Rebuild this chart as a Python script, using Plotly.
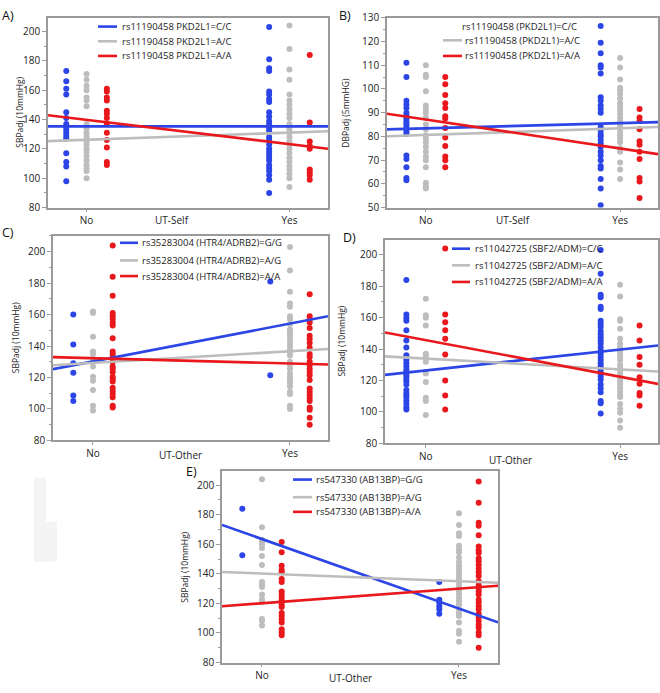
import plotly.graph_objects as go

# ---------------- data ----------------
categories = ["No", "Yes"]
genotype_colors = ["#2b45e6", "#bdbdbd", "#e8181c"]

# Panel A: rs11190458 PKD2L1 vs UT-Self, SBPadj
A_labels = ["rs11190458 PKD2L1=C/C", "rs11190458 PKD2L1=A/C", "rs11190458 PKD2L1=A/A"]
A_blue_no = [173, 166, 161, 157, 145, 141, 137, 135, 133, 131, 129, 127, 117, 111, 108, 98]
A_gray_no = [171, 167, 163, 160, 155, 153, 149, 137, 134, 131, 129, 127, 125, 123, 120, 118, 115, 112, 109, 107, 105, 100]
A_red_no = [161, 159, 155, 153, 146, 144, 141, 137, 131, 126, 121, 111, 109]
A_blue_yes = [203, 181, 175, 173, 159, 157, 154, 152, 145, 142, 139, 137, 134, 132, 128, 126, 123, 120, 118, 116, 114, 112, 109, 107, 105, 102, 99, 90]
A_gray_yes = [204, 188, 174, 167, 157, 153, 150, 147, 144, 141, 137, 135, 133, 131, 128, 125, 123, 120, 117, 114, 111, 108, 106, 103, 100, 94]
A_red_yes = [184, 138, 125, 122, 120, 106, 104, 102, 99]
A_fit_no = [135.3, 126.2, 139.8]
A_fit_yes = [135.3, 131.1, 123.2]

# Panel B: rs11190458 (PKD2L1) vs UT-Self, DBPadj
B_labels = ["rs11190458 (PKD2L1)=C/C", "rs11190458 (PKD2L1)=A/C", "rs11190458 (PKD2L1)=A/A"]
B_blue_no = [111, 105, 95, 93.5, 92, 90, 89, 88, 87, 86, 85, 84, 83, 82, 81, 72, 70.5, 67, 62.5, 61.5]
B_gray_no = [110, 106, 105, 99, 93, 91.5, 90, 88, 85, 83, 80.5, 79, 77.5, 75.5, 73.5, 71.5, 70, 67, 60.5, 59, 58]
B_red_no = [105, 102, 97.5, 94, 92, 88.5, 87.5, 83.5, 79.5, 76, 71.5, 70, 67]
B_blue_yes = [126.5, 119.5, 115, 110, 109, 106.5, 96.5, 95, 93, 91.5, 90, 84, 82.5, 81, 80, 78.5, 77, 75.5, 73.5, 72, 70, 67.5, 66.5, 62, 58, 51]
B_gray_yes = [113, 109, 104, 100.5, 99.5, 98, 96, 94, 92.5, 91, 89.5, 88, 86.5, 85, 84, 82, 80.5, 79, 77.5, 75, 73.5, 69, 66, 62]
B_red_yes = [91.5, 88, 86.5, 83, 78, 76.5, 73.5, 70.5, 62.5, 61, 54]
B_fit_no = [83.4, 80.6, 87.1]
B_fit_yes = [85.6, 83.4, 74.9]

# Panel C: rs35283004 (HTR4/ADRB2) vs UT-Other, SBPadj
C_labels = ["rs35283004 (HTR4/ADRB2)=G/G", "rs35283004 (HTR4/ADRB2)=A/G", "rs35283004 (HTR4/ADRB2)=A/A"]
C_blue_no = [160, 141, 129, 123, 108.5, 105]
C_gray_no = [162, 161, 146, 136.5, 135, 131, 127, 120.5, 118, 112, 102, 99]
C_red_no = [204, 184, 172, 161, 159, 157, 155, 153, 145, 136.5, 135, 133, 130, 127, 125.5, 123.5, 120.5, 119, 117.5, 113.5, 111.5, 109.5, 107.5, 102, 101]
C_blue_yes = [181, 121.5]
C_gray_yes = [203, 188, 174.5, 167, 165, 159, 157, 154, 150.5, 148.5, 146.5, 144.5, 142, 140, 138, 136, 134, 130, 128, 125.5, 122.5, 120.5, 118.5, 116.5, 114.5, 111, 109.5, 102, 100]
C_red_yes = [173, 159, 157, 155, 151.5, 146.5, 144.5, 142, 139, 135, 133, 130, 128, 125.5, 123.5, 121.5, 118.5, 113, 111, 109, 107, 105, 101, 99.5, 94.5, 90]
C_fit_no = [130.2, 129.3, 132.3]
C_fit_yes = [154.3, 136.7, 128.9]

# Panel D: rs11042725 (SBF2/ADM) vs UT-Other, SBPadj
D_labels = ["rs11042725 (SBF2/ADM)=C/C", "rs11042725 (SBF2/ADM)=A/C", "rs11042725 (SBF2/ADM)=A/A"]
D_blue_no = [184, 162, 160, 158, 152, 145.5, 141, 136, 134.5, 133, 131, 129, 127, 125.5, 124, 122.5, 121, 119.5, 117.5, 114, 112, 110.5, 109, 107, 105, 103, 101.5]
D_gray_no = [172, 161.5, 160, 155, 137, 135.5, 133.5, 132, 124.5, 119, 109, 107, 98]
D_red_no = [204, 162, 157, 152, 146.5, 136.5, 120, 110.5, 101.5]
D_blue_yes = [203, 188, 174.5, 173, 167, 165.5, 158, 156, 154, 151.5, 149.5, 147.5, 145.5, 143.5, 141, 139, 137, 135, 133, 131, 129, 126.5, 124.5, 122.5, 120.5, 117.5, 115, 112.5, 107, 105.5, 99]
D_gray_yes = [181, 173.5, 159, 158, 153, 146.5, 143.5, 141, 139, 137, 135, 133, 130, 128, 125.5, 123.5, 121.5, 119.5, 117.5, 115, 113, 111, 109.5, 105, 102, 99.5, 94.5, 90]
D_red_yes = [155, 145.5, 135, 130, 122, 118, 112, 110.5, 104]
D_fit_no = [126.4, 133.9, 145.7]
D_fit_yes = [139.7, 127.1, 122.4]

# Panel E: rs547330 (AB13BP) vs UT-Other, SBPadj
E_labels = ["rs547330 (AB13BP)=G/G", "rs547330 (AB13BP)=A/G", "rs547330 (AB13BP)=A/A"]
E_blue_no = [184, 152.5]
E_gray_no = [204, 171.5, 163, 161.5, 160, 157.5, 152, 146, 134.5, 133, 131, 126, 123, 121.5, 109.5, 108, 105]
E_red_no = [161.5, 154.5, 145.5, 142.5, 141, 136.5, 134.5, 128, 126, 124, 122, 119, 117.5, 113.5, 111.5, 109.5, 107, 102.5, 100.5, 98.5]
E_blue_yes = [134.5, 122.5, 120.5, 118, 116, 113]
E_gray_yes = [181, 173, 167.5, 165.5, 159, 156.5, 154.5, 151, 148, 145.5, 143.5, 141, 139, 137, 134.5, 132.5, 130, 128, 126, 123.5, 121.5, 119, 116, 113.5, 111.5, 107, 101.5, 99.5, 94]
E_red_yes = [202.5, 188, 174.5, 172.5, 166, 158.5, 156, 154, 150.5, 148.5, 146, 143.5, 141, 138.5, 135, 132.5, 130, 128, 126, 122.5, 120.5, 118, 116, 113, 110.5, 108, 105.5, 103.5, 100.5, 98.5, 90]
E_fit_no = [163.5, 140.2, 120.1]
E_fit_yes = [116.5, 135.0, 130.0]

# ---------------- layout config ----------------
W, H = 660, 693
panels = [
    dict(tag="A)", labels=A_labels, no=[A_blue_no, A_gray_no, A_red_no], yes=[A_blue_yes, A_gray_yes, A_red_yes],
         fno=A_fit_no, fyes=A_fit_yes, px=(48, 328), py=(10, 204), xr=(-0.19, 1.19), yr=(80, 209.3),
         dtick=20, ytitle="SBPadj (10mmHg)", xtitle="UT-Self", xt_pos=(172, 217), yt_x=20,
         tag_pos=(0, 8), leg_line=(98, 117), leg_text=[120, 120, 120], leg_y=[19, 34, 49], show_line=[1, 1, 1]),
    dict(tag="B)", labels=B_labels, no=[B_blue_no, B_gray_no, B_red_no], yes=[B_blue_yes, B_gray_yes, B_red_yes],
         fno=B_fit_no, fyes=B_fit_yes, px=(387, 658), py=(10, 204), xr=(-0.2, 1.195), yr=(50, 130),
         dtick=10, ytitle="DBPadj (5mmHG)", xtitle="UT-Self", xt_pos=(513, 217), yt_x=346,
         tag_pos=(337, 8), leg_line=(443, 462), leg_text=[460, 463, 463], leg_y=[19, 33, 49], show_line=[0, 1, 1]),
    dict(tag="C)", labels=C_labels, no=[C_blue_no, C_gray_no, C_red_no], yes=[C_blue_yes, C_gray_yes, C_red_yes],
         fno=C_fit_no, fyes=C_fit_yes, px=(53, 328), py=(233, 442), xr=(-0.203, 1.193), yr=(80, 210),
         dtick=20, ytitle="SBPadj (10mmHg)", xtitle="UT-Other", xt_pos=(180, 457), yt_x=15,
         tag_pos=(0, 229), leg_line=(120, 138), leg_text=[140, 140, 140], leg_y=[240, 258, 274], show_line=[1, 1, 1]),
    dict(tag="D)", labels=D_labels, no=[D_blue_no, D_gray_no, D_red_no], yes=[D_blue_yes, D_gray_yes, D_red_yes],
         fno=D_fit_no, fyes=D_fit_yes, px=(385, 658), py=(237, 445), xr=(-0.21, 1.195), yr=(80, 209.5),
         dtick=20, ytitle="SBPadj (10mmHg)", xtitle="UT-Other", xt_pos=(510, 462), yt_x=342,
         tag_pos=(341, 235), leg_line=(452, 470), leg_text=[473, 473, 473], leg_y=[246, 263, 280], show_line=[1, 1, 1]),
    dict(tag="E)", labels=E_labels, no=[E_blue_no, E_gray_no, E_red_no], yes=[E_blue_yes, E_gray_yes, E_red_yes],
         fno=E_fit_no, fyes=E_fit_yes, px=(222, 498), py=(473, 669), xr=(-0.203, 1.198), yr=(80, 209.7),
         dtick=20, ytitle="SBPadj (10mmHg)", xtitle="UT-Other", xt_pos=(350, 685), yt_x=185,
         tag_pos=(184, 474), leg_line=(293, 312), leg_text=[314, 314, 314], leg_y=[482, 500, 515], show_line=[1, 1, 1]),
]
offsets = [-0.1, 0.0, 0.1]
FONT = "Open Sans"
AXCOL = "#9a9a9a"

fig = go.Figure()
annotations = []
shapes = []

for i, p in enumerate(panels):
    k = "" if i == 0 else str(i + 1)
    xa, ya = "x" + k, "y" + k
    x0, x1 = p["xr"]
    # scatter points
    for g in range(3):
        for c, vals in enumerate([p["no"][g], p["yes"][g]]):
            fig.add_trace(go.Scatter(
                x=[c + offsets[g]] * len(vals), y=vals, mode="markers",
                marker=dict(size=6, color=genotype_colors[g], line=dict(width=0)),
                xaxis=xa, yaxis=ya, showlegend=False, hoverinfo="skip"))
    # fit lines (straight lines through No / Yes fitted values, extended to axis edges)
    for g in range(3):
        a, b = p["fno"][g], p["fyes"][g]
        slope = b - a
        fig.add_trace(go.Scatter(
            x=[x0, x1], y=[a + slope * x0, a + slope * x1], mode="lines",
            line=dict(color=genotype_colors[g], width=2.6),
            xaxis=xa, yaxis=ya, showlegend=False, hoverinfo="skip"))

    dx = [p["px"][0] / W, p["px"][1] / W]
    dy = [1 - p["py"][1] / H, 1 - p["py"][0] / H]
    axis_common = dict(showline=True, linecolor=AXCOL, linewidth=1.5, mirror=True,
                       showgrid=False, zeroline=False, ticks="outside", tickcolor=AXCOL,
                       tickfont=dict(family=FONT, size=10, color="#222"))
    fig.layout["xaxis" + k] = dict(domain=dx, range=list(p["xr"]), tickvals=[0, 1], ticktext=categories,
                                   ticklen=3, anchor=ya, **axis_common)
    fig.layout["yaxis" + k] = dict(domain=dy, range=list(p["yr"]), dtick=p["dtick"], ticklen=4,
                                   minor=dict(dtick=p["dtick"] / 2, ticklen=2, ticks="outside", tickcolor=AXCOL),
                                   anchor=xa, **axis_common)
    # panel tag
    annotations.append(dict(text=p["tag"], xref="paper", yref="paper", x=p["tag_pos"][0] / W,
                            y=1 - p["tag_pos"][1] / H, xanchor="left", yanchor="middle", showarrow=False,
                            font=dict(family=FONT, size=12.5, color="#111")))
    # y title
    annotations.append(dict(text=p["ytitle"], xref="paper", yref="paper", x=p["yt_x"] / W,
                            y=(dy[0] + dy[1]) / 2, textangle=-90, xanchor="center", yanchor="middle",
                            showarrow=False, font=dict(family=FONT, size=8.5, color="#222")))
    # x title
    annotations.append(dict(text=p["xtitle"], xref="paper", yref="paper", x=p["xt_pos"][0] / W,
                            y=1 - p["xt_pos"][1] / H, xanchor="center", yanchor="middle",
                            showarrow=False, font=dict(family=FONT, size=10, color="#222")))
    # legend
    for g in range(3):
        yy = 1 - p["leg_y"][g] / H
        if p["show_line"][g]:
            shapes.append(dict(type="line", xref="paper", yref="paper",
                               x0=p["leg_line"][0] / W, x1=p["leg_line"][1] / W, y0=yy, y1=yy,
                               line=dict(color=genotype_colors[g], width=2.6)))
        annotations.append(dict(text=p["labels"][g], xref="paper", yref="paper",
                                x=p["leg_text"][g] / W, y=yy, xanchor="left", yanchor="middle",
                                showarrow=False, font=dict(family=FONT, size=9.5, color="#222")))

# faint scan artefact at the left of panel E
shapes.append(dict(type="rect", xref="paper", yref="paper", x0=34 / W, x1=46 / W, y0=1 - 566 / H, y1=1 - 480 / H,
                   fillcolor="#f4f4f4", line=dict(width=0), layer="below"))
shapes.append(dict(type="rect", xref="paper", yref="paper", x0=34 / W, x1=57 / W, y0=1 - 566 / H, y1=1 - 525 / H,
                   fillcolor="#f4f4f4", line=dict(width=0), layer="below"))

fig.update_layout(width=W, height=H, margin=dict(l=0, r=0, t=0, b=0),
                  paper_bgcolor="white", plot_bgcolor="white",
                  annotations=annotations, shapes=shapes, showlegend=False)
fig.write_html("out.html", config={"displayModeBar": False},
               post_script="document.body.style.margin='0px';")
